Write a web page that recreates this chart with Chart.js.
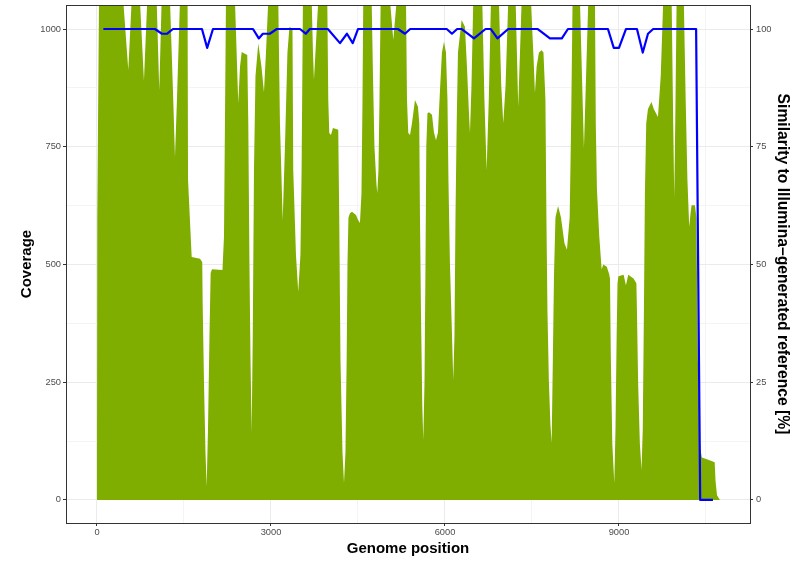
<!DOCTYPE html>
<html>
<head>
<meta charset="utf-8">
<script src="https://cdn.jsdelivr.net/npm/chart.js"></script>
<style>
  body { margin: 0; background: white; }
  canvas { display: block; }
</style>
</head>
<body>
<canvas id="chartCoverage" width="800" height="563"></canvas>
<script>
// read depth along the genome
const covPositions = [
  0, 5, 35, 453, 540, 598, 741, 810, 867, 1029, 1074, 1115, 1259, 1315, 1345, 1379, 1431,
  1562, 1570, 1633, 1776, 1815, 1822, 1845, 1871, 1891, 1914, 1940, 1960, 1983, 2164, 2190, 2224,
  2379, 2436, 2466, 2495, 2591, 2609, 2629, 2647, 2667, 2686, 2707, 2733, 2781, 2836, 2879, 2914, 2953,
  3126, 3155, 3202, 3241, 3284, 3319, 3371, 3384, 3431, 3470, 3508, 3528, 3551,
  3702, 3724, 3741, 3767, 3815, 3971, 3988, 4005, 4034, 4069, 4160, 4177, 4198, 4233, 4259, 4284,
  4305, 4319, 4336, 4362, 4397, 4466, 4500, 4534, 4560, 4578, 4591,
  4736, 4759, 4784, 4819, 4833, 4853, 4871, 4891, 5052, 5109, 5167,
  5328, 5345, 5367, 5397, 5431, 5483, 5534, 5557, 5569, 5586, 5609, 5626, 5647, 5664, 5678, 5698,
  5724, 5776, 5810, 5845, 5879, 5914, 5948, 5983, 6017, 6043, 6060, 6086, 6121, 6143, 6164, 6181,
  6202, 6224, 6287, 6344, 6379, 6414, 6431, 6457, 6488, 6643, 6680, 6718, 6755, 6793,
  6930, 6970, 7005, 7045, 7091, 7218, 7263, 7322, 7482, 7530, 7551, 7580, 7620, 7667,
  7698, 7732, 7749, 7767, 7792, 7818, 7839, 7860, 7880, 7905, 7950, 8000, 8060, 8103, 8150, 8175, 8200,
  8327, 8396, 8471, 8586, 8600, 8620, 8660, 8701, 8730, 8790, 8830, 8845, 8860, 8885, 8919, 8940,
  8960, 8975, 8990, 9080, 9120, 9160, 9250, 9300, 9310, 9330, 9360, 9389, 9410, 9430, 9447, 9470,
  9500, 9560, 9600, 9672, 9720, 9763, 9908, 9935, 9953, 9970, 9994,
  10118, 10150, 10180, 10211, 10235, 10252, 10310, 10335, 10360, 10400, 10430, 10550, 10650, 10665, 10690, 10740
];
const coverage = [
  0, 600, 1060, 1060, 913, 1060, 1060, 890, 1060, 1060, 870, 1060, 1060, 850, 728, 850, 1060,
  1060, 680, 516, 512, 505, 420, 250, 100, 28, 150, 350, 482, 490, 488, 560, 1060,
  1060, 843, 920, 951, 945, 800, 500, 300, 142, 350, 700, 900, 970, 920, 866, 950, 1060,
  1060, 800, 594, 750, 950, 1005, 1000, 700, 520, 442, 520, 700, 1060,
  1060, 950, 892, 950, 1060, 1060, 850, 779, 775, 790, 786, 600, 300, 100, 36, 100,
  300, 500, 600, 609, 612, 605, 595, 588, 650, 850, 1060,
  1060, 900, 750, 670, 651, 700, 850, 1060, 1060, 977, 1060,
  1060, 850, 779, 775, 800, 849, 835, 800, 600, 400, 200, 127, 250, 500, 750, 821,
  823, 818, 780, 764, 780, 870, 950, 973, 950, 850, 679, 500, 350, 255, 350, 600,
  800, 950, 1019, 1005, 920, 820, 779, 880, 1060, 1060, 850, 700, 850, 1060,
  1060, 880, 800, 880, 1060, 1060, 835, 1060, 1060, 930, 864, 920, 950, 955,
  950, 850, 600, 400, 250, 160, 121, 300, 480, 600, 624, 600, 545, 531, 600, 800, 1060,
  1060, 747, 1060, 1060, 800, 660, 560, 490, 500, 495, 480, 470, 300, 120, 36, 150,
  350, 460, 475, 478, 456, 478, 470, 460, 400, 250, 120, 64, 150, 400, 650, 800,
  830, 845, 830, 813, 900, 1060, 1060, 800, 643, 800, 1060,
  1060, 850, 680, 580, 610, 626, 626, 600, 300, 110, 90, 85, 80, 40, 10, 0
];

// similarity to the Illumina-generated reference, %
const simPositions = [
  110, 1000, 1120, 1210, 1310, 1810, 1900, 2000, 2690, 2790, 2860, 2980, 3100,
  3500, 3600, 3670, 3980, 4190, 4310, 4410, 4500, 5190, 5310, 5400,
  6030, 6120, 6210, 6290, 6500, 6700, 6790, 6905, 7090, 7600, 7810, 8015, 8120,
  8810, 8910, 9000, 9120, 9310, 9410, 9500, 9590, 10330, 10400, 10620
];
const similarity = [
  100, 100, 99, 99, 100, 100, 96, 100, 100, 98, 99, 99, 100,
  100, 99, 100, 100, 97, 99, 97, 100, 100, 99, 100,
  100, 99, 100, 100, 98, 100, 100, 98, 100, 100, 98, 98, 100,
  100, 96, 96, 100, 100, 95, 99, 100, 100, 0, 0
];

const xTicks = [0, 1500, 3000, 4500, 6000, 7500, 9000, 10500];
const xLabels = ['0', '', '3000', '', '6000', '', '9000', ''];
const yTicks = [0, 125, 250, 375, 500, 625, 750, 875, 1000];
const yLabels = ['0', '', '250', '', '500', '', '750', '', '1000'];
const y2Ticks = [0, 25, 50, 75, 100];
const y2Labels = ['0', '25', '50', '75', '100'];

const FONT = "'Liberation Sans', Arial, Helvetica, sans-serif";
Chart.defaults.font.family = FONT;

const tickFont = { size: 9.3, family: FONT };
const titleFont = { size: 15, weight: 'bold', family: FONT };

// major / minor gridlines like ggplot theme_bw
function gridColor(labels) {
  return ctx => (labels[ctx.index] === '' ? '#f4f4f4' : '#ebebeb');
}
function tickColor(labels) {
  return ctx => (labels[ctx.index] === '' ? 'rgba(0,0,0,0)' : '#333333');
}

// fixed axis boxes so the panel sits where it does in the original
function fixBox(size) {
  return s => {
    if (s.isHorizontal()) s.height = size; else s.width = size;
    s.paddingTop = 0; s.paddingBottom = 0; s.paddingLeft = 0; s.paddingRight = 0;
  };
}

const panelBorder = {
  id: 'panelBorder',
  afterDatasetsDraw(chart) {
    const { ctx, chartArea: a } = chart;
    ctx.save();
    ctx.strokeStyle = '#333333';
    ctx.lineWidth = 1;
    ctx.strokeRect(a.left + 0.5, a.top + 0.5, a.right - a.left, a.bottom - a.top);
    ctx.restore();
  }
};

new Chart(document.getElementById('chartCoverage'), {
  type: 'line',
  data: {
    datasets: [
      {
        label: 'Similarity',
        data: simPositions.map((p, i) => ({ x: p, y: similarity[i] })),
        yAxisID: 'y2',
        borderColor: '#0000ff',
        borderWidth: 2.2,
        borderJoinStyle: 'round',
        pointRadius: 0,
        fill: false,
        tension: 0,
        order: 0
      },
      {
        label: 'Coverage',
        data: covPositions.map((p, i) => ({ x: p, y: coverage[i] })),
        yAxisID: 'y',
        borderWidth: 0,
        borderColor: 'rgba(0,0,0,0)',
        backgroundColor: '#7fad00',
        pointRadius: 0,
        fill: 'origin',
        tension: 0,
        order: 1
      }
    ]
  },
  options: {
    responsive: false,
    animation: false,
    layout: { padding: { top: 5, left: 0, right: 0, bottom: 0 } },
    plugins: {
      legend: { display: false },
      tooltip: { enabled: false }
    },
    scales: {
      x: {
        type: 'linear',
        min: -534,
        max: 11259,
        afterBuildTicks: s => { s.ticks = xTicks.map(v => ({ value: v })); },
        afterFit: fixBox(40),
        border: { display: false },
        grid: { color: gridColor(xLabels), lineWidth: 1, tickLength: 3, tickColor: tickColor(xLabels) },
        ticks: {
          autoSkip: false, maxRotation: 0, padding: 1, color: '#4d4d4d', font: tickFont,
          callback: (v, i) => xLabels[i]
        },
        title: { display: true, text: 'Genome position', color: '#000', font: titleFont, padding: { top: 0, bottom: 5 } }
      },
      y: {
        position: 'left',
        min: -49,
        max: 1051,
        afterBuildTicks: s => { s.ticks = yTicks.map(v => ({ value: v })); },
        afterFit: fixBox(66),
        border: { display: false },
        grid: { color: gridColor(yLabels), lineWidth: 1, tickLength: 3, tickColor: tickColor(yLabels) },
        ticks: {
          autoSkip: false, padding: 2, color: '#4d4d4d', font: tickFont,
          callback: (v, i) => yLabels[i]
        },
        title: { display: true, text: 'Coverage', color: '#000', font: titleFont, padding: { top: 18, bottom: 0 } }
      },
      y2: {
        position: 'right',
        min: -4.9,
        max: 105.1,
        afterBuildTicks: s => { s.ticks = y2Ticks.map(v => ({ value: v })); },
        afterFit: fixBox(50),
        border: { display: false },
        grid: { drawOnChartArea: false, tickLength: 3, tickColor: '#333333' },
        ticks: {
          autoSkip: false, padding: 3, color: '#4d4d4d', font: tickFont,
          callback: (v, i) => y2Labels[i]
        },
        title: {
          display: true, text: 'Similarity to Illumina\u2013generated reference [%]',
          color: '#000', font: { size: 15.7, weight: 'bold', family: FONT }, padding: { top: 8, bottom: 0 }
        }
      }
    }
  },
  plugins: [panelBorder]
});
</script>
</body>
</html>
